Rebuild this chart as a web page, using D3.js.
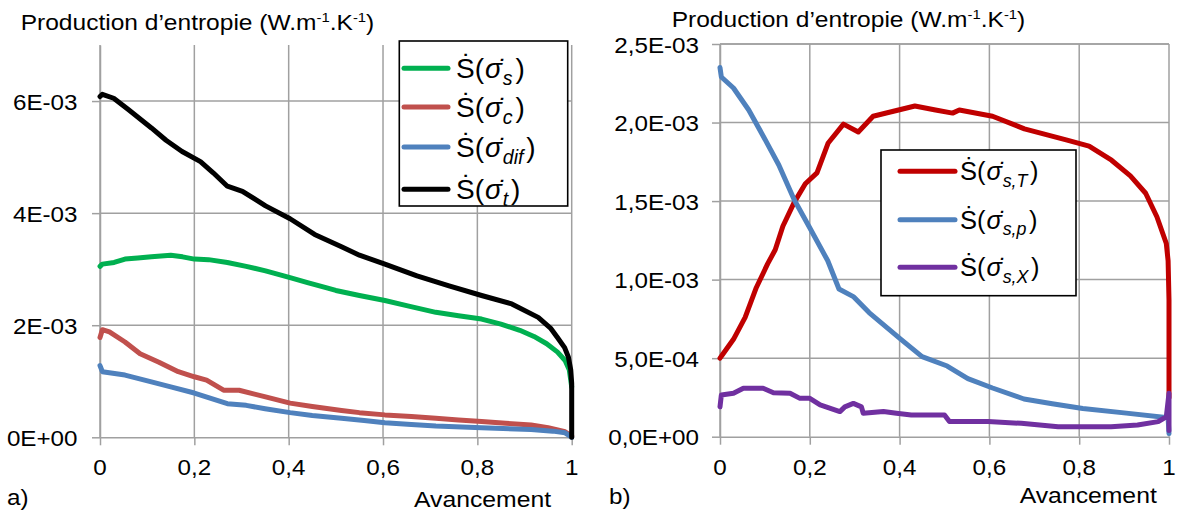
<!DOCTYPE html>
<html><head><meta charset="utf-8">
<script src="https://cdn.jsdelivr.net/npm/d3@7"></script>
<style>
html,body{margin:0;padding:0;background:#fff;}
svg{display:block;font-family:"Liberation Sans",Arial,sans-serif;}
</style></head>
<body>
<svg id="chart" width="1178" height="512"></svg>
<script>
// ---------- DATA (values in units of 1E-03) ----------
const xTicks = [0, 0.2, 0.4, 0.6, 0.8, 1];
const xTickLabels = ["0", "0,2", "0,4", "0,6", "0,8", "1"];
const yTicksA = [0, 0.002, 0.004, 0.006];
const yTickLabelsA = ["0E+00", "2E-03", "4E-03", "6E-03"];
const yTicksB = [0, 0.0005, 0.001, 0.0015, 0.002, 0.0025];
const yTickLabelsB = ["0,0E+00", "5,0E-04", "1,0E-03", "1,5E-03", "2,0E-03", "2,5E-03"];

// Panel a
const sigmaS = [[0,3.05],[0.005,3.09],[0.03,3.12],[0.053,3.18],[0.08,3.2],[0.109,3.22],[0.15,3.25],[0.175,3.22],[0.2,3.18],[0.23,3.17],[0.27,3.12],[0.31,3.05],[0.351,2.97],[0.403,2.85],[0.44,2.76],[0.479,2.67],[0.5,2.62],[0.55,2.53],[0.604,2.44],[0.65,2.35],[0.712,2.23],[0.76,2.17],[0.809,2.11],[0.85,2.02],[0.89,1.91],[0.92,1.8],[0.947,1.67],[0.97,1.52],[0.986,1.37],[0.995,1.2],[1.0,0.9]];
const sigmaC = [[0,1.78],[0.005,1.92],[0.02,1.88],[0.053,1.70],[0.085,1.49],[0.125,1.34],[0.166,1.17],[0.2,1.08],[0.226,1.02],[0.262,0.84],[0.295,0.84],[0.351,0.72],[0.403,0.61],[0.45,0.55],[0.512,0.48],[0.55,0.44],[0.604,0.40],[0.66,0.37],[0.712,0.34],[0.76,0.31],[0.809,0.28],[0.86,0.25],[0.914,0.22],[0.95,0.17],[0.986,0.10],[1.0,0.02]];
const sigmaDif = [[0,1.28],[0.005,1.17],[0.053,1.11],[0.109,0.99],[0.15,0.9],[0.2,0.79],[0.27,0.60],[0.31,0.57],[0.35,0.51],[0.403,0.44],[0.45,0.39],[0.512,0.34],[0.56,0.30],[0.604,0.26],[0.66,0.23],[0.712,0.20],[0.809,0.17],[0.914,0.14],[0.96,0.11],[0.986,0.08],[1.0,0.0]];
const sigmaT = [[0,6.08],[0.005,6.12],[0.029,6.05],[0.06,5.85],[0.109,5.52],[0.14,5.3],[0.174,5.10],[0.213,4.92],[0.24,4.72],[0.27,4.48],[0.302,4.39],[0.351,4.13],[0.403,3.9],[0.455,3.62],[0.512,3.40],[0.55,3.25],[0.604,3.09],[0.672,2.88],[0.74,2.70],[0.809,2.53],[0.873,2.38],[0.929,2.14],[0.955,1.95],[0.969,1.79],[0.985,1.6],[0.993,1.43],[0.998,1.2],[1.0,0.96],[1.0,0.0]];

// Panel b
const sigmaST = [[0,0.50],[0.005,0.52],[0.03,0.62],[0.056,0.76],[0.081,0.95],[0.106,1.10],[0.123,1.19],[0.14,1.34],[0.165,1.49],[0.19,1.61],[0.216,1.68],[0.241,1.87],[0.275,1.99],[0.308,1.94],[0.341,2.04],[0.384,2.07],[0.434,2.105],[0.48,2.08],[0.518,2.06],[0.533,2.08],[0.607,2.04],[0.678,1.96],[0.771,1.89],[0.822,1.85],[0.872,1.76],[0.914,1.66],[0.948,1.55],[0.973,1.40],[0.994,1.23],[0.998,1.12],[1.0,0.87],[1.0,0.25]];
const sigmaSp = [[0,2.35],[0.003,2.29],[0.03,2.22],[0.064,2.08],[0.097,1.91],[0.131,1.73],[0.165,1.51],[0.198,1.34],[0.24,1.12],[0.265,0.94],[0.298,0.89],[0.332,0.79],[0.403,0.62],[0.45,0.51],[0.506,0.45],[0.552,0.37],[0.607,0.31],[0.677,0.24],[0.74,0.21],[0.808,0.18],[0.905,0.15],[0.998,0.12],[1.0,0.02]];
const sigmaSX = [[0,0.19],[0.003,0.265],[0.03,0.276],[0.052,0.308],[0.096,0.308],[0.119,0.28],[0.156,0.276],[0.178,0.244],[0.2,0.244],[0.223,0.202],[0.267,0.16],[0.278,0.19],[0.297,0.212],[0.315,0.19],[0.319,0.149],[0.364,0.16],[0.393,0.149],[0.426,0.138],[0.50,0.138],[0.511,0.096],[0.597,0.096],[0.671,0.085],[0.753,0.064],[0.871,0.064],[0.93,0.074],[0.976,0.096],[0.994,0.127],[1.0,0.276],[1.0,0.04]];

const seriesA = [
  {data: sigmaS, color: "#00B050", sub: "s"},
  {data: sigmaC, color: "#C0504D", sub: "c"},
  {data: sigmaDif, color: "#4F81BD", sub: "dif"},
  {data: sigmaT, color: "#000000", sub: "t"}
];
const seriesB = [
  {data: sigmaST, color: "#C00000", sub: "s,T"},
  {data: sigmaSp, color: "#4F81BD", sub: "s,p"},
  {data: sigmaSX, color: "#7030A0", sub: "s,X"}
];

// ---------- DRAWING ----------
const svg = d3.select("#chart");
const SX = 1.1;
const GRID = "#A0A0A0";

function txt(parent, x, y, str, size, anchor) {
  return parent.append("text")
    .attr("transform", `translate(${x},${y}) scale(${SX},1)`)
    .attr("text-anchor", anchor || "start")
    .attr("font-size", size)
    .attr("fill", "#000")
    .text(str);
}

function title(parent, x, y) {
  const t = parent.append("text")
    .attr("transform", `translate(${x},${y}) scale(${SX},1)`)
    .attr("font-size", 22.3).attr("fill", "#000");
  t.append("tspan").text("Production d’entropie (W.m");
  t.append("tspan").attr("font-size", 13.5).attr("dy", -8).text("-1");
  t.append("tspan").attr("dy", 8).text(".K");
  t.append("tspan").attr("font-size", 13.5).attr("dy", -8).text("-1");
  t.append("tspan").attr("dy", 8).text(")");
}

function panel(cfg) {
  const g = svg.append("g");
  const x = d3.scaleLinear().domain([0, 1]).range(cfg.xr);
  const y = d3.scaleLinear().domain([0, cfg.ymax]).range(cfg.yr);

  // gridlines
  g.append("g").selectAll("line.h").data(cfg.yTicks.filter(v => v > 0)).join("line")
    .attr("x1", x(0)).attr("x2", x(1)).attr("y1", d => y(d)).attr("y2", d => y(d))
    .attr("stroke", GRID).attr("stroke-width", 1.5);
  if (cfg.topLine) {
    g.append("line").attr("x1", x(0)).attr("x2", x(1)).attr("y1", y(cfg.ymax)).attr("y2", y(cfg.ymax))
      .attr("stroke", GRID).attr("stroke-width", 1.5);
  }
  g.append("g").selectAll("line.v").data(xTicks).join("line")
    .attr("x1", d => x(d)).attr("x2", d => x(d)).attr("y1", y(0)).attr("y2", y(cfg.ymax))
    .attr("stroke", GRID).attr("stroke-width", 1.5);

  // axes (tick marks only)
  const ax = g.append("g").attr("transform", `translate(0,${y(0)})`)
    .call(d3.axisBottom(x).tickValues(xTicks).tickFormat("").tickSize(8).tickSizeOuter(0));
  const ay = g.append("g").attr("transform", `translate(${x(0)},0)`)
    .call(d3.axisLeft(y).tickValues(cfg.yTicks).tickFormat("").tickSize(8).tickSizeOuter(0));
  [ax, ay].forEach(a => {
    a.select(".domain").attr("stroke", GRID).attr("stroke-width", 1.5);
    a.selectAll(".tick line").attr("stroke", GRID).attr("stroke-width", 1.5);
  });

  // tick labels
  xTicks.forEach((v, i) => txt(g, x(v), 475, xTickLabels[i], 22, "middle"));
  cfg.yTicks.forEach((v, i) => txt(g, cfg.yLabelX, y(v) + 8.5, cfg.yLabels[i], 22, "end"));

  // series
  const line = d3.line().x(d => x(d[0])).y(d => y(d[1] * 1e-3));
  cfg.series.forEach(s => {
    g.append("path").datum(s.data).attr("d", line)
      .attr("fill", "none").attr("stroke", s.color).attr("stroke-width", 5)
      .attr("stroke-linejoin", "round").attr("stroke-linecap", "round");
  });

  // legend
  const L = cfg.legend;
  const lg = g.append("g");
  lg.append("rect").attr("x", L.x).attr("y", L.y).attr("width", L.w).attr("height", L.h)
    .attr("fill", "#fff").attr("stroke", "#000").attr("stroke-width", 1.6);
  cfg.series.forEach((s, i) => {
    const ly = L.rows[i];
    lg.append("line").attr("x1", L.lx1).attr("x2", L.lx2).attr("y1", ly).attr("y2", ly)
      .attr("stroke", s.color).attr("stroke-width", 5).attr("stroke-linecap", "round");
    const fs = L.fs;
    const t = lg.append("text").attr("x", L.tx).attr("y", ly + L.dy)
      .attr("font-size", fs).attr("fill", "#000");
    t.append("tspan").text("Ṡ(");
    t.append("tspan").attr("font-style", "italic").attr("dx", fs * 0.04).text("σ\u0307");
    t.append("tspan").attr("font-style", "italic").attr("font-size", fs * 0.7)
      .attr("dy", fs * 0.25).attr("dx", fs * 0.03).text(s.sub);
    t.append("tspan").attr("dy", -fs * 0.25).attr("dx", fs * 0.1).text(")");
  });

  // titles & labels
  title(g, cfg.titleX, cfg.titleY);
  txt(g, cfg.avX, cfg.avY, "Avancement", 22.5, "start");
  txt(g, cfg.tagX, cfg.tagY, cfg.tag, 22, "start");
}

panel({
  xr: [100, 571.7], yr: [437.3, 45], ymax: 0.007, topLine: false,
  yTicks: yTicksA, yLabels: yTickLabelsA, yLabelX: 77.5,
  series: seriesA,
  legend: {x: 399.3, y: 41, w: 168.4, h: 165, lx1: 404, lx2: 448, tx: 456,
           rows: [68.3, 107, 147, 189.3], dy: 10, fs: 28},
  titleX: 20.7, titleY: 30, avX: 414, avY: 506.5, tag: "a)", tagX: 7, tagY: 505
});

panel({
  xr: [720, 1169], yr: [436.7, 44], ymax: 0.0025, topLine: true,
  yTicks: yTicksB, yLabels: yTickLabelsB, yLabelX: 699,
  series: seriesB,
  legend: {x: 881, y: 150, w: 195, h: 145.7, lx1: 900, lx2: 955, tx: 960,
           rows: [171.3, 219.7, 267.3], dy: 9, fs: 25.5},
  titleX: 671.7, titleY: 26.7, avX: 1019.7, avY: 502.5, tag: "b)", tagX: 609, tagY: 504
});
</script>
</body></html>
